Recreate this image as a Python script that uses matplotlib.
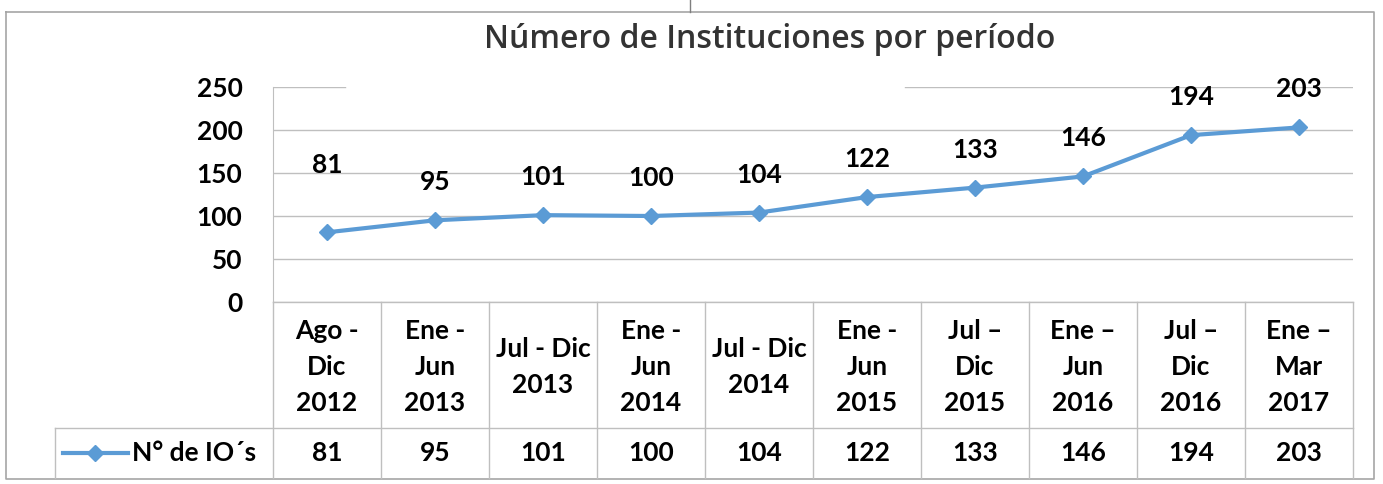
import matplotlib
matplotlib.use("Agg")
import matplotlib.pyplot as plt
from matplotlib.lines import Line2D

periodos = ["Ago -\nDic\n2012", "Ene -\nJun\n2013", "Jul - Dic\n2013", "Ene -\nJun\n2014",
            "Jul - Dic\n2014", "Ene -\nJun\n2015", "Jul \u2013\nDic\n2015", "Ene \u2013\nJun\n2016",
            "Jul \u2013\nDic\n2016", "Ene \u2013\nMar\n2017"]
valores = [81, 95, 101, 100, 104, 122, 133, 146, 194, 203]
serie = "N° de IO´s"
titulo = "Número de Instituciones por período"
yticks = [0, 50, 100, 150, 200, 250]

W, H = 1383, 484
azul = "#5B9BD5"
gris = "#BFBFBF"
fuente = "Lato"
fs = 19

fig = plt.figure(figsize=(W / 100, H / 100), dpi=100)

def fx(px):
    return px / W

def fy(py):
    return 1 - py / H

# overlay for outer border
bg = fig.add_axes([0, 0, 1, 1])
bg.set_xlim(0, W)
bg.set_ylim(H, 0)
bg.axis("off")
bg.plot([6, 1374, 1374, 6, 6], [12, 12, 479, 479, 12], color="#A6A6A6", lw=1.2)
bg.plot([690, 690], [0, 12], color="#7F7F7F", lw=1)

# main plot
x0, x1 = 273, 1353
ytop, ybot = 87, 302
ax = fig.add_axes([fx(x0), fy(ybot), fx(x1 - x0), (ybot - ytop) / H])
ax.set_xlim(-0.5, len(valores) - 0.5)
ax.set_ylim(0, 250)
for s in ["top", "right", "bottom"]:
    ax.spines[s].set_visible(False)
ax.spines["left"].set_color(gris)
ax.set_xticks([])
ax.set_yticks(yticks)
ax.set_yticklabels([str(v) for v in yticks], fontsize=fs, fontweight="bold", family=fuente)
ax.tick_params(axis="y", length=0, pad=22)
for v in yticks[:-1]:
    ax.axhline(v, color=gris, lw=1, zorder=0)
ax.axhline(250, xmin=0, xmax=(345 - x0) / (x1 - x0), color=gris, lw=1, zorder=0)
ax.axhline(250, xmin=(905 - x0) / (x1 - x0), xmax=1, color=gris, lw=1, zorder=0)

xs = list(range(len(valores)))
ax.plot(xs, valores, color=azul, lw=3, marker="D", ms=8, zorder=3, clip_on=False)
for i, v in enumerate(valores):
    off = 67 if i == 0 else 38
    ax.annotate(str(v), (i, v), xytext=(0, off * 0.72), textcoords="offset points",
                ha="center", va="center", fontsize=fs, fontweight="bold", family=fuente)

fig.text(fx(770), fy(40), titulo, ha="center", va="center", fontsize=23,
         fontweight="semibold", family="Open Sans", color="#333333")

# data table
tab = fig.add_axes([fx(x0), fy(478), fx(x1 - x0), (478 - ybot) / H])
tab.set_xlim(-0.5, len(valores) - 0.5)
tab.set_ylim(478, ybot)
tab.axis("off")
yhead = 428
tab.plot([-0.5, len(valores) - 0.5], [ybot, ybot], color=gris, lw=1, clip_on=False)
leg_left = -0.5 - (x0 - 55) / 108
tab.plot([leg_left, len(valores) - 0.5], [yhead, yhead], color=gris, lw=1, clip_on=False)
tab.plot([leg_left, leg_left], [yhead, 478], color=gris, lw=1, clip_on=False)
for k in range(len(valores) + 1):
    tab.plot([k - 0.5, k - 0.5], [ybot, 478], color=gris, lw=1, clip_on=False)
for i, (p, v) in enumerate(zip(periodos, valores)):
    tab.text(i, (ybot + yhead) / 2 + 2, p, ha="center", va="center", fontsize=fs,
             fontweight="bold", family=fuente, linespacing=1.62)
    tab.text(i, 453, str(v), ha="center", va="center", fontsize=fs,
             fontweight="bold", family=fuente)

lx = lambda px: -0.5 - (x0 - px) / 108
tab.add_line(Line2D([lx(63), lx(128)], [453, 453], color=azul, lw=3, clip_on=False))
tab.add_line(Line2D([lx(95)], [453], color=azul, marker="D", ms=8, clip_on=False))
tab.text(lx(132), 453, serie, ha="left", va="center", fontsize=fs,
         fontweight="bold", family=fuente)

fig.savefig("out.png", dpi=100, facecolor="white")
